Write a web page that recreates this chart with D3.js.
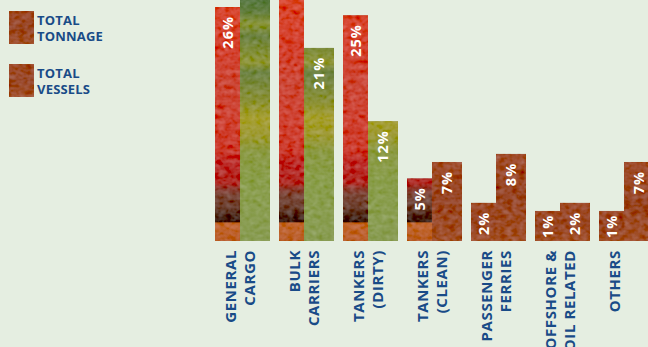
<!DOCTYPE html>
<html><head><meta charset="utf-8">
<script src="https://cdn.jsdelivr.net/npm/d3@7/dist/d3.min.js"></script>
<style>
html,body{margin:0;padding:0;background:#e5eee1;}
svg{display:block;font-family:"Open Sans",sans-serif;}
</style></head>
<body>
<svg id="c" width="648" height="347"></svg>
<script>
// ---- data ----
const categories = ["GENERAL CARGO","BULK CARRIERS","TANKERS (DIRTY)","TANKERS (CLEAN)","PASSENGER FERRIES","OFFSHORE & OIL RELATED","OTHERS"];
const categoryLines = [["GENERAL","CARGO"],["BULK","CARRIERS"],["TANKERS","(DIRTY)"],["TANKERS","(CLEAN)"],["PASSENGER","FERRIES"],["OFFSHORE &","OIL RELATED"],["OTHERS"]];
const series = ["TOTAL TONNAGE","TOTAL VESSELS"];
const legendLines = [["TOTAL","TONNAGE"],["TOTAL","VESSELS"]];
const tonnage = [26, 40, 25, 5, 2, 1, 1];   // bulk carriers value cut off in the picture (estimated)
const vessels = [43, 21, 12, 7, 8, 2, 7];   // general cargo value cut off in the picture (estimated)

// ---- layout ----
const base = 241;
const navy = "#194b87";
const svg = d3.select("#c");

const defs = svg.append("defs");
function grad(id, stops, userSpace){
  const g = defs.append("linearGradient").attr("id", id).attr("x1",0).attr("x2",0);
  if (userSpace) g.attr("gradientUnits","userSpaceOnUse").attr("y1",0).attr("y2",base);
  else g.attr("y1",0).attr("y2",1);
  stops.forEach(s => g.append("stop").attr("offset", s[0]).attr("stop-color", s[1]));
}
grad("gRed", [
  [0,"#d9472d"],[0.2,"#d3402e"],[0.35,"#cc4838"],[0.5,"#cf4334"],[0.62,"#cc3a2b"],
  [0.68,"#bb2a27"],[0.76,"#b02a23"],[0.785,"#8a3a2e"],[0.81,"#7c4a3c"],[0.86,"#6c4030"],
  [0.895,"#4d2a1b"],[0.92,"#3e2014"],[0.925,"#c2662f"],[1,"#b95e2b"]], true);
grad("gGreen", [
  [0,"#56783f"],[0.05,"#647f40"],[0.1,"#8a9538"],[0.15,"#6c8242"],[0.2,"#7d8c3c"],
  [0.26,"#8f9535"],[0.3,"#6e8445"],[0.36,"#7c8a3e"],[0.42,"#8a9036"],[0.49,"#a69f31"],
  [0.56,"#9e9a35"],[0.63,"#8b9a44"],[0.75,"#8a9e4c"],[1,"#8a9d55"]], true);
grad("gRust", [[0,"#a04c2a"],[0.5,"#984626"],[1,"#a2502a"]], false);

const f = defs.append("filter").attr("id","grain").attr("x",0).attr("y",0).attr("width",1).attr("height",1);
f.append("feTurbulence").attr("type","fractalNoise").attr("baseFrequency","0.16 0.2").attr("numOctaves",2).attr("seed",4).attr("result","n");
f.append("feColorMatrix").attr("in","n").attr("type","matrix")
  .attr("values","0.33 0.33 0.33 0 0  0.33 0.33 0.33 0 0  0.33 0.33 0.33 0 0  0 0 0 0 1").attr("result","g");
f.append("feComposite").attr("in","SourceGraphic").attr("in2","g").attr("operator","arithmetic")
  .attr("k1",0).attr("k2",1).attr("k3",0.26).attr("k4",-0.13).attr("result","m");
f.append("feComposite").attr("in","m").attr("in2","SourceGraphic").attr("operator","in");

// scales
const x0 = d3.scaleBand().domain(categories).range([215, 654]).paddingInner(9/64).paddingOuter(0);
const tonW = x0.bandwidth() * 25/55;
const x1 = d3.scaleOrdinal().domain(series).range([0, tonW]);
const wOf = s => s === series[0] ? tonW : x0.bandwidth() - tonW;
// the original is drawn with a minimum bar height offset
const y = d3.scaleLinear().domain([0, 26]).range([base - 22, base - 234]);

function fillFor(s, i){
  if (s === series[0]) return i <= 3 ? "url(#gRed)" : "url(#gRust)";
  return i <= 2 ? "url(#gGreen)" : "url(#gRust)";
}

const rows = [];
categories.forEach((c, i) => {
  rows.push({c, i, s: series[0], v: tonnage[i]});
  rows.push({c, i, s: series[1], v: vessels[i]});
});

const g = svg.append("g");
g.selectAll("rect.bar").data(rows).join("rect")
  .attr("class","bar")
  .attr("x", d => x0(d.c) + x1(d.s))
  .attr("y", d => y(d.v))
  .attr("width", d => wOf(d.s))
  .attr("height", d => base - y(d.v))
  .attr("fill", d => fillFor(d.s, d.i))
  .attr("filter","url(#grain)");

// value labels (rotated)
g.selectAll("text.val").data(rows.filter(d => y(d.v) > 0)).join("text")
  .attr("class","val")
  .attr("fill","#ffffff")
  .attr("font-size",14.5).attr("font-weight",700).attr("letter-spacing","1px")
  .attr("text-anchor","start")
  .attr("dy","0.36em")
  .text(d => d.v + "%")
  .each(function(d){
    const len = this.getComputedTextLength();
    let end = y(d.v) + 9;
    if (end + len > base - 3) end = base - 3 - len;
    const cx = x0(d.c) + x1(d.s) + wOf(d.s)/2;
    d3.select(this).attr("transform", `translate(${cx},${end + len}) rotate(-90)`);
  });

// category labels
categories.forEach((c, i) => {
  const t = svg.append("text")
    .attr("transform", `translate(${x0(c) + 21},250) rotate(-90)`)
    .attr("text-anchor","end")
    .attr("fill", navy)
    .attr("font-size",15).attr("font-weight",700).attr("letter-spacing","0.6px");
  categoryLines[i].forEach((line, j) => {
    t.append("tspan").attr("x",0).attr("y", j*19).text(line);
  });
});

// legend
const leg = svg.append("g");
series.forEach((s, i) => {
  const yy = 11 + i*53;
  leg.append("rect").attr("x",9).attr("y",yy).attr("width",25).attr("height",33)
    .attr("fill","url(#gRust)").attr("filter","url(#grain)");
  const t = leg.append("text")
    .attr("fill", navy).attr("font-size",13).attr("font-weight",700).attr("letter-spacing","0.2px");
  legendLines[i].forEach((line, j) => {
    t.append("tspan").attr("x",37).attr("y", yy + 14 + j*15.8).text(line);
  });
});
</script>
</body></html>
